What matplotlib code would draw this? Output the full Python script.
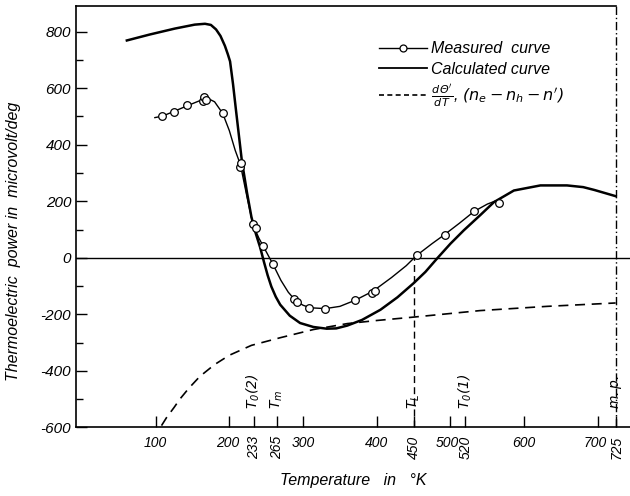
import matplotlib
matplotlib.use("Agg")
import matplotlib.pyplot as plt
import matplotlib.transforms as mtransforms
from matplotlib.lines import Line2D
from matplotlib.ticker import MultipleLocator

# ---- data ----
meas_T = [109, 125, 143, 164, 166, 169, 191, 214.5, 215.5, 232, 236, 246, 259,
          288, 291.5, 308.5, 329.5, 371, 393.5, 397.5, 454, 492, 532.5, 566]
meas_V = [501, 517, 540, 554, 568, 560, 511, 322, 337, 118, 105, 41, -22,
          -145, -157, -178, -180, -150, -123, -116, 8, 82, 164, 195]

# smooth line of the measured curve
mline_T = [99, 109, 125, 143, 160, 170, 180, 191, 200, 208, 215, 224, 232, 240,
           246, 259, 270, 280, 290, 300, 310, 330, 350, 371, 395, 420, 440, 454,
           475, 492, 512, 532, 550, 560]
mline_V = [496, 501, 518, 538, 556, 565, 552, 511, 450, 380, 330, 215, 118, 70,
           41, -22, -80, -122, -152, -168, -177, -180, -172, -150, -118, -70,
           -28, 8, 50, 82, 122, 164, 190, 200]

calc_T = [61, 92, 126, 153, 167, 175, 182, 188, 194, 198, 201, 205, 209, 217, 224,
          230, 236, 242, 247, 252, 257, 263, 269, 282, 296, 314, 332, 345, 360, 380,
          405, 428, 450, 466, 482, 500, 518, 540, 559, 586, 622, 658, 680, 695, 724]
calc_V = [769, 790, 811, 825, 828, 824, 808, 785, 750, 720, 695, 615, 523, 343, 230,
          144, 85, 35, -15, -62, -102, -138, -166, -205, -231, -245, -251, -250,
          -240, -220, -184, -140, -90, -50, -2, 50, 97, 150, 197, 238, 256, 256,
          250, 240, 218]

dth_T = [108, 115, 125, 133, 145, 160, 180, 200, 230, 269, 314, 360, 400, 450,
         540, 631, 724]
dth_V = [-594, -565, -530, -500, -462, -420, -378, -345, -310, -283, -254, -233,
         -222, -210, -187, -172, -160]

x_ticks = [100, 200, 233, 265, 300, 400, 450, 500, 520, 600, 700, 725]
x_rot = {233, 265, 450, 520, 725}
x_nudge = {500: -3, 700: -3, 200: -2}
y_ticks = [-600, -400, -200, 0, 200, 400, 600, 800]

marks = [(233, r"$T_0(2)$"), (265, r"$T_m$"), (450, r"$T_L$"),
         (520, r"$T_0(1)$"), (725, r"$m.p.$")]

T_L = 450
T_mp = 725
XMIN, XMAX = -8, 744
YMIN, YMAX = -600, 892

# ---- figure ----
plt.rcParams['font.family'] = ['Liberation Sans', 'DejaVu Sans']
plt.rcParams['font.style'] = 'italic'
plt.rcParams['mathtext.fontset'] = 'dejavusans'

fig = plt.figure(figsize=(6.3, 4.96), dpi=100)
ax = fig.add_axes([0.1206, 0.1385, 0.880, 0.850])

ax.set_xlim(XMIN, XMAX)
ax.set_ylim(YMIN, YMAX)

ax.plot(mline_T, mline_V, color='black', lw=1.0, zorder=3)
ax.plot(meas_T, meas_V, ls='none', marker='o', ms=5.5, mfc='white',
        mec='black', mew=0.9, zorder=4)
ax.plot(calc_T, calc_V, color='black', lw=1.8, zorder=3)
ax.plot(dth_T, dth_V, color='black', lw=1.2, ls=(0, (6, 4)), zorder=2)

ax.axhline(0, color='black', lw=1.0, zorder=1)
ax.plot([T_L, T_L], [YMIN, 0], color='black', lw=1.0, ls=(0, (5, 3)), zorder=1)
ax.plot([T_mp, T_mp], [YMIN, YMAX], color='black', lw=1.0,
        ls=(0, (6, 2, 1, 2)), zorder=1, clip_on=False)

# frame: left + bottom spines, top line only up to m.p.
for s in ['top', 'right']:
    ax.spines[s].set_visible(False)
for s in ['left', 'bottom']:
    ax.spines[s].set_linewidth(1.2)
ax.plot([XMIN, T_mp], [YMAX, YMAX], color='black', lw=1.2, clip_on=False)

ax.set_xticks(x_ticks)
ax.set_xticklabels([str(t) for t in x_ticks])
ax.set_yticks(y_ticks)
ax.set_yticklabels([str(v) for v in y_ticks])
ax.yaxis.set_minor_locator(MultipleLocator(100))
ax.tick_params(axis='both', which='major', direction='in', length=8,
               width=1.0, labelsize=11)
ax.tick_params(axis='x', labelsize=10, pad=6)
ax.tick_params(axis='y', which='minor', direction='in', length=5, width=1.0)
for lbl, t in zip(ax.get_xticklabels(), x_ticks):
    if t in x_rot:
        lbl.set_rotation(90)
        lbl.set_va('top')
        lbl.set_ha('center')
    if t in x_nudge:
        off = mtransforms.ScaledTranslation(x_nudge[t] / 100, 0,
                                            fig.dpi_scale_trans)
        lbl.set_transform(lbl.get_transform() + off)

for t, s in marks:
    ax.text(t, -535, s, rotation=90, ha='center', va='bottom', fontsize=10)

ax.set_xlabel("Temperature   in   \u00b0K", fontsize=11.5, labelpad=10)
ax.set_ylabel("Thermoelectric  power in  microvolt/deg", fontsize=11.5,
              labelpad=4)
ax.yaxis.set_label_coords(-0.1, 0.44)

handles = [
    Line2D([], [], color='black', lw=1.0, marker='o', ms=5, mfc='white',
           mec='black', mew=0.9),
    Line2D([], [], color='black', lw=1.3),
    Line2D([], [], color='black', lw=1.2, ls=(0, (3, 2))),
]
labels = ["Measured  curve", "Calculated curve",
          r"$\frac{d\,\Theta'}{d\,T}$, $(n_e - n_h - n')$"]
leg = ax.legend(handles, labels, loc='upper left',
                bbox_to_anchor=(0.52, 0.95), frameon=False, fontsize=11.5,
                handlelength=3.0, handletextpad=0.3, labelspacing=0.35)

fig.savefig("out.png", dpi=100)
